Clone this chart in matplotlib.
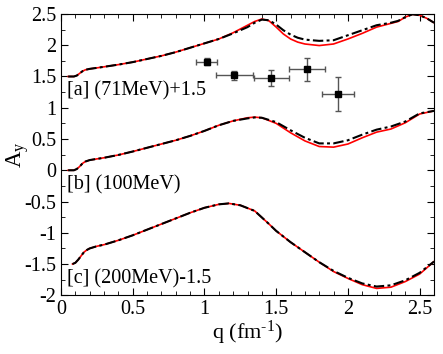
import matplotlib
matplotlib.use('Agg')
import matplotlib.pyplot as plt
from matplotlib.ticker import MultipleLocator, FormatStrFormatter

plt.rcParams['font.family'] = ['Liberation Serif', 'DejaVu Serif']
plt.rcParams['mathtext.fontset'] = 'custom'
plt.rcParams['mathtext.rm'] = 'Liberation Serif'
plt.rcParams['mathtext.it'] = 'Liberation Serif:italic'

# curve [a] (71 MeV) + 1.5
qa = [0.05, 0.09, 0.11, 0.13, 0.15, 0.17, 0.20, 0.25, 0.30, 0.40, 0.50, 0.60, 0.70, 0.80,
      0.90, 1.00, 1.10, 1.20, 1.30, 1.35, 1.40, 1.45, 1.50, 1.55, 1.60, 1.65, 1.70, 1.80,
      1.90, 2.00, 2.10, 2.20, 2.30, 2.35, 2.40, 2.45, 2.50, 2.55, 2.60]
a_red = [1.50, 1.50, 1.515, 1.55, 1.585, 1.607, 1.622, 1.638, 1.655, 1.69, 1.73, 1.78, 1.83, 1.89,
         1.96, 2.03, 2.10, 2.20, 2.32, 2.38, 2.42, 2.39, 2.29, 2.18, 2.10, 2.05, 2.02, 1.995,
         2.02, 2.10, 2.19, 2.29, 2.35, 2.38, 2.45, 2.495, 2.48, 2.43, 2.36]
a_blk = [1.50, 1.50, 1.515, 1.55, 1.585, 1.607, 1.622, 1.638, 1.655, 1.69, 1.73, 1.78, 1.83, 1.89,
         1.96, 2.03, 2.10, 2.19, 2.29, 2.36, 2.41, 2.40, 2.33, 2.24, 2.17, 2.12, 2.09, 2.07,
         2.08, 2.16, 2.24, 2.32, 2.36, 2.39, 2.45, 2.495, 2.48, 2.43, 2.36]

# curve [b] (100 MeV)
qb = [0.05, 0.09, 0.11, 0.13, 0.15, 0.17, 0.20, 0.25, 0.30, 0.40, 0.50, 0.60, 0.70, 0.80,
      0.90, 1.00, 1.10, 1.20, 1.30, 1.35, 1.40, 1.50, 1.60, 1.70, 1.80, 1.90, 2.00, 2.10,
      2.20, 2.30, 2.40, 2.50, 2.60]
b_red = [0.0, 0.0, 0.02, 0.06, 0.11, 0.14, 0.163, 0.182, 0.20, 0.245, 0.30, 0.36, 0.42, 0.48,
         0.55, 0.63, 0.72, 0.79, 0.84, 0.85, 0.84, 0.75, 0.60, 0.47, 0.38, 0.37, 0.42, 0.52,
         0.61, 0.66, 0.76, 0.90, 0.95]
b_blk = [0.0, 0.0, 0.02, 0.06, 0.11, 0.14, 0.163, 0.182, 0.20, 0.245, 0.30, 0.36, 0.42, 0.48,
         0.55, 0.63, 0.72, 0.79, 0.83, 0.845, 0.84, 0.77, 0.64, 0.52, 0.43, 0.43, 0.48, 0.57,
         0.65, 0.70, 0.78, 0.91, 0.95]

# curve [c] (200 MeV) - 1.5
qc = [0.08, 0.10, 0.12, 0.14, 0.16, 0.18, 0.20, 0.25, 0.30, 0.40, 0.50, 0.60, 0.70, 0.80,
      0.90, 1.00, 1.10, 1.17, 1.25, 1.35, 1.45, 1.50, 1.60, 1.70, 1.80, 1.90, 2.00, 2.10,
      2.20, 2.30, 2.40, 2.50, 2.60]
c_red = [-1.50, -1.48, -1.43, -1.37, -1.31, -1.275, -1.25, -1.215, -1.19, -1.12, -1.04, -0.95,
         -0.86, -0.77, -0.68, -0.60, -0.545, -0.53, -0.56, -0.65, -0.86, -0.97, -1.15, -1.31,
         -1.47, -1.62, -1.73, -1.83, -1.89, -1.87, -1.78, -1.66, -1.46]
c_blk = [-1.50, -1.48, -1.43, -1.37, -1.31, -1.275, -1.25, -1.215, -1.19, -1.12, -1.04, -0.95,
         -0.86, -0.77, -0.68, -0.60, -0.545, -0.53, -0.56, -0.65, -0.86, -0.97, -1.15, -1.31,
         -1.47, -1.61, -1.72, -1.81, -1.86, -1.84, -1.76, -1.64, -1.46]

# experimental points (71 MeV, shifted +1.5)
qexp = [1.016, 1.208, 1.467, 1.713, 1.931]
ayexp = [1.737, 1.519, 1.481, 1.615, 1.225]
qerr = [0.072, 0.127, 0.125, 0.125, 0.11]
ayerr = [0.06, 0.07, 0.125, 0.18, 0.27]

labels = ['[a] (71MeV)+1.5', '[b] (100MeV)', '[c] (200MeV)-1.5']
label_y = [1.27, -0.24, -1.73]

fig = plt.figure(figsize=(4.43, 3.54), dpi=100)
ax = fig.add_axes([0.1377, 0.1658, 0.8420, 0.7947])

dashdot = (0, (5, 1.6, 1.4, 1.6))
for q, r, k in [(qa, a_red, a_blk), (qb, b_red, b_blk), (qc, c_red, c_blk)]:
    ax.plot(q, r, color='red', lw=1.2)
    ax.plot(q, k, color='black', lw=1.5, linestyle=dashdot)

ax.errorbar(qexp, ayexp, xerr=qerr, yerr=ayerr, fmt='s', color='black', ms=5,
            ecolor='#555555', elinewidth=1, capsize=2.5, capthick=1)

for t, y in zip(labels, label_y):
    ax.text(0.045, y, t, fontsize=14.5, va='center', ha='left')

ax.set_xlim(0, 2.6)
ax.set_ylim(-2, 2.5)
ax.xaxis.set_major_locator(MultipleLocator(0.5))
ax.xaxis.set_minor_locator(MultipleLocator(0.1))
ax.yaxis.set_major_locator(MultipleLocator(0.5))
ax.yaxis.set_minor_locator(MultipleLocator(0.25))
ax.xaxis.set_major_formatter(FormatStrFormatter('%g'))
ax.yaxis.set_major_formatter(FormatStrFormatter('%g'))
ax.tick_params(which='both', direction='in', top=True, right=True, labelsize=14.5)
ax.tick_params(which='major', length=5)
ax.tick_params(which='minor', length=3)
ax.set_xlabel(r'q (fm$^{\text{-1}}$)', fontsize=16, labelpad=0)
ax.set_ylabel(r'A$_{\rm y}$', fontsize=16.5, labelpad=0)
ax.yaxis.set_label_coords(-0.08, 0.5)

fig.savefig('out.png', dpi=100)
